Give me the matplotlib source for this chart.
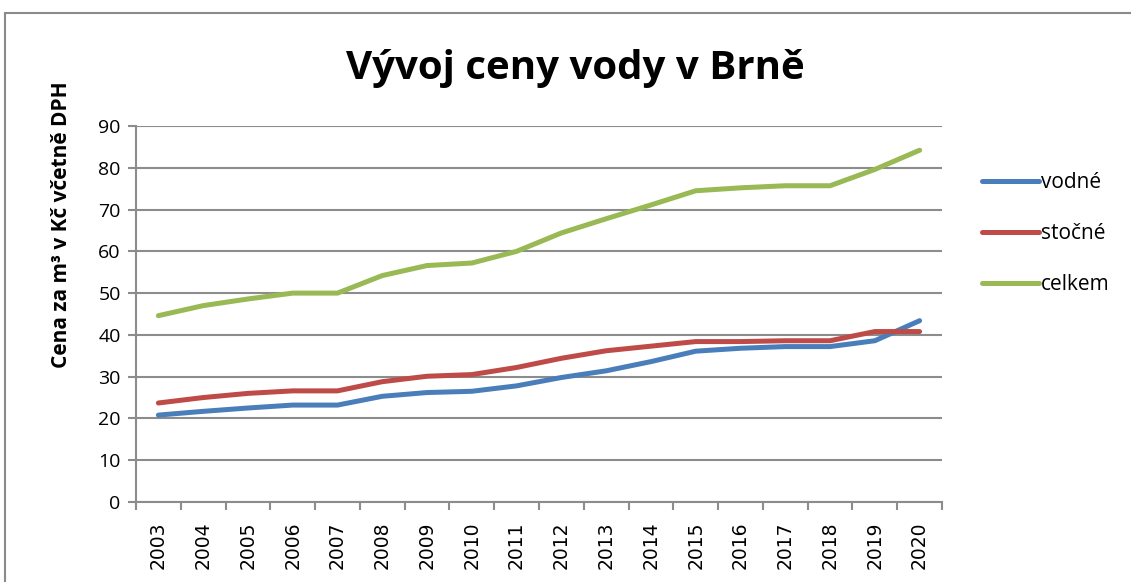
import matplotlib
matplotlib.use("Agg")
import matplotlib.pyplot as plt
from matplotlib.patches import Rectangle

years = [str(y) for y in range(2003, 2021)]
vodne = [20.8, 21.7, 22.5, 23.2, 23.2, 25.3, 26.2, 26.5, 27.8, 29.8, 31.4, 33.6, 36.1, 36.8, 37.2, 37.2, 38.6, 43.4]
stocne = [23.7, 25.0, 26.0, 26.6, 26.6, 28.8, 30.1, 30.5, 32.2, 34.4, 36.2, 37.3, 38.4, 38.4, 38.6, 38.6, 40.8, 40.8]
celkem = [44.6, 47.0, 48.6, 50.0, 50.0, 54.2, 56.6, 57.2, 60.0, 64.4, 67.8, 71.1, 74.5, 75.2, 75.7, 75.7, 79.6, 84.2]
series_names = ["vodné", "stočné", "celkem"]
colors = ["#4A7EBB", "#BE4B48", "#98B954"]
yticks = list(range(0, 100, 10))

plt.rcParams["font.family"] = ["Open Sans", "DejaVu Sans"]
grid_col = "#8c8c8c"

fig = plt.figure(figsize=(11.31, 5.82), dpi=100)
ax = fig.add_axes([136 / 1131, 1 - 502 / 582, 806 / 1131, 376 / 582])

x = range(len(years))
for vals, name, c in zip([vodne, stocne, celkem], series_names, colors):
    ax.plot(x, vals, color=c, lw=3.6, label=name, solid_capstyle="round")

ax.set_xlim(-0.5, len(years) - 0.5)
ax.set_ylim(0, 90)
ax.set_yticks(yticks)
ax.set_yticklabels([str(v) for v in yticks], fontsize=14)
ax.set_xticks(list(x))
ax.set_xticklabels(years, rotation=90, fontsize=13.5, family=["DejaVu Sans"])
ax.set_xticks([i - 0.5 for i in range(len(years) + 1)], minor=True)
ax.tick_params(axis="x", which="major", length=0, pad=14)
ax.tick_params(axis="x", which="minor", length=6, width=1.5, color=grid_col)
ax.tick_params(axis="y", length=6, width=1.5, color=grid_col, pad=5)

ax.grid(axis="y", color=grid_col, lw=1.5)
ax.set_axisbelow(True)
for s in ["top", "right"]:
    ax.spines[s].set_visible(False)
for s in ["left", "bottom"]:
    ax.spines[s].set_color(grid_col)
    ax.spines[s].set_linewidth(1.5)

fig.text(62 / 1131, 1 - 225 / 582, "Cena za m³ v Kč včetně DPH", rotation=90, ha="center", va="center",
         fontsize=15, fontweight="bold")
fig.text(575 / 1131, 1 - 68 / 582, "Vývoj ceny vody v Brně", ha="center", va="center",
         fontsize=29, fontweight="bold")

ax.legend(loc="upper left", bbox_to_anchor=((982 - 136) / 806, (502 - 172) / 376), frameon=False,
          fontsize=15, handlelength=2.75, handletextpad=0.1, labelspacing=1.45, borderaxespad=0,
          borderpad=0)

fig.patches.append(Rectangle((5 / 1131, -0.1), 1.2, 1 - 13 / 582 + 0.1, transform=fig.transFigure,
                             fill=False, edgecolor="#8a8a8a", lw=1.5))

fig.savefig("out.png", dpi=100)
